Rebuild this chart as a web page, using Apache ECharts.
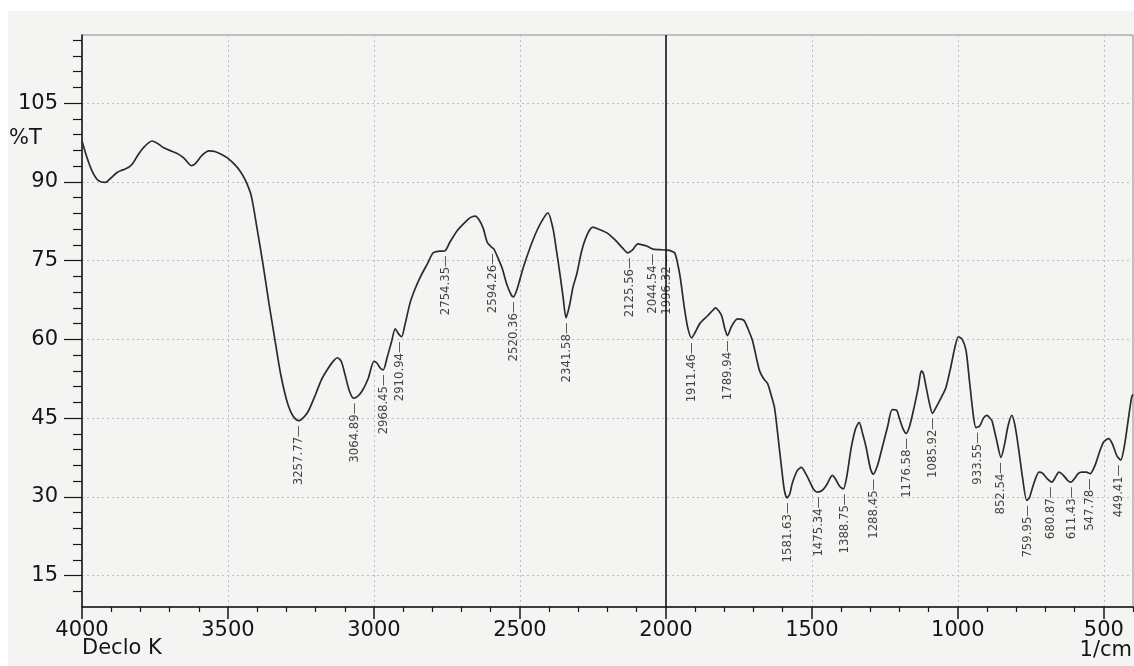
<!DOCTYPE html>
<html><head><meta charset="utf-8">
<script src="https://cdn.jsdelivr.net/npm/echarts@6/dist/echarts.min.js"></script>
<style>html,body{margin:0;padding:0;background:#fff;}#c{width:1134px;height:666px;}</style>
</head><body><div id="c"></div>
<script>
// ---- data ----
const wavenumbers = [4000,3985,3965,3945,3920,3900,3880,3860,3840,3825,3810,3790,3760,3740,3720,3690,3670,3650,3625,3610,3590,3565,3545,3520,3500,3480,3460,3440,3420,3400,3380,3360,3340,3320,3300,3285,3270,3258,3240,3225,3200,3180,3160,3140,3125,3112,3100,3085,3070,3055,3040,3020,3000,2990,2978,2968,2955,2940,2927,2915,2905,2895,2876,2860,2840,2817,2797,2775,2756,2740,2715,2690,2670,2653,2640,2626,2612,2598,2590,2575,2561,2545,2530,2522,2510,2489,2465,2442,2420,2404,2387,2375,2363,2352,2342,2330,2318,2305,2290,2278,2262,2250,2230,2202,2175,2148,2131,2115,2096,2080,2066,2045,2020,1997,1985,1970,1960,1950,1938,1925,1912,1900,1884,1857,1840,1830,1820,1809,1798,1789,1775,1755,1740,1731,1715,1703,1690,1679,1665,1652,1640,1628,1616,1604,1594,1585,1576,1567,1550,1536,1522,1509,1495,1481,1465,1450,1430,1420,1405,1392,1380,1365,1350,1338,1326,1314,1300,1290,1275,1259,1240,1225,1210,1201,1188,1177,1165,1150,1135,1125,1118,1109,1098,1087,1075,1057,1041,1025,1010,998,985,972,960,948,938,925,912,900,890,883,868,852,840,828,815,804,791,778,764,755,740,722,710,695,678,665,654,640,625,613,600,588,576,560,547,530,515,500,483,470,455,442,430,418,405,400];
const transmittance = [97.8,95,92,90.3,89.9,90.8,91.8,92.3,92.8,93.6,95.0,96.5,97.8,97.3,96.5,95.8,95.3,94.5,93.1,93.6,95.0,95.9,95.8,95.2,94.5,93.5,92.2,90.3,87.3,81,74.3,67,60.2,53.5,48.6,46.2,44.9,44.5,45.2,46.3,49.5,52.3,54.2,55.8,56.5,55.8,53.5,50.3,48.8,49.2,50.2,52.5,55.8,55.5,54.5,54.2,56.5,59.5,62,61,60.5,62.5,67,69.5,72,74.4,76.5,76.8,76.9,78.5,80.7,82.2,83.2,83.5,82.8,81.2,78.5,77.6,77.3,75.5,73.6,70.5,68.5,68.1,69.5,73.6,77.5,80.7,83,84.1,81.2,77,72.5,68,64.1,66.5,70,72.5,76.5,78.8,80.8,81.4,81,80.3,79,77.4,76.5,77,78.2,78,77.8,77.2,77.1,77,76.9,76.5,74.5,71.5,66.5,62.2,60.3,61.3,63,64.5,65.5,66,65.5,64.5,62,60.7,62.5,63.9,63.8,63.5,61.5,59.7,56.5,54,52.5,51.6,49.5,47,41.5,35.6,31.2,29.8,30.5,32.6,35,35.6,34.5,33.1,31.5,30.9,31.2,32.2,34.1,33.5,32,31.5,34,39.4,43,44.2,42,39.4,35.5,34.3,36,39.4,43.5,46.6,46.5,45.1,43,42.1,43.5,47,51,54,53.5,51,48,45.9,47,48.9,50.8,54.5,58.5,60.5,60,57.9,52,46,43.2,43.5,45,45.5,45,44.5,41,37.5,40,43.5,45.5,43.5,38.8,33.5,29.3,29.8,32.5,34.7,34.5,33.5,32.8,33.8,34.7,34.2,33.2,32.8,33.5,34.4,34.7,34.7,34.4,36,38.5,40.5,41.1,40,37.8,37,39.5,44,48.9,49.5];

const peakLabels = ['3257.77','3064.89','2968.45','2910.94','2754.35','2594.26','2520.36','2341.58','2125.56','2044.54','1996.32','1911.46','1789.94','1581.63','1475.34','1388.75','1288.45','1176.58','1085.92','933.55','852.54','759.95','680.87','611.43','547.78','449.41'];
const peakWavenumbers = [3257.77,3064.89,2968.45,2910.94,2754.35,2594.26,2520.36,2341.58,2125.56,2044.54,1996.32,1911.46,1789.94,1581.63,1475.34,1388.75,1288.45,1176.58,1085.92,933.55,852.54,759.95,680.87,611.43,547.78,449.41];
const peakTransmittance = [44.5,48.8,54.2,60.5,76.9,77.3,68.1,64.1,76.5,77.2,77,60.3,60.7,29.8,30.9,31.5,34.3,42.1,45.9,43.2,37.5,29.3,32.8,32.8,34.4,37];

const xTickLabels = [4000,3500,3000,2500,2000,1500,1000,500];
const yTickLabels = [15,30,45,60,75,90,105];
const dividerWavenumber = [2000];

// minor tick positions
const xMinorTicks = [];
for (let v = 3900; v >= 400; v -= 100) if (v % 500 !== 0) xMinorTicks.push(v);
const yMinorTicks = [];
for (let v = 12; v <= 117; v += 3) if (v % 15 !== 0) yMinorTicks.push(v);

// ---- chart ----
const chart = echarts.init(document.getElementById('c'), null, {renderer: 'canvas'});
const ink = '#151515';
const gridColor = '#bdbdbd';
const bigFont = 'DejaVu Sans';

const curve = wavenumbers.map((w, i) => [w, transmittance[i]]);
const peaks = peakWavenumbers.map((w, i) => ({value: [w, peakTransmittance[i]], name: peakLabels[i]}));

const option = {
  backgroundColor: '#f4f4f2',
  animation: false,
  grid: {left: 82, right: 1, top: 35, bottom: 59, show: true, borderColor: '#8a8a8a', borderWidth: 1},
  xAxis: [
    {
      type: 'value', min: 400, max: 4000, inverse: true, position: 'bottom',
      axisLine: {show: true, onZero: false, lineStyle: {color: ink, width: 1.5}},
      axisTick: {show: true, customValues: xTickLabels, length: 12, lineStyle: {color: ink, width: 1.5}},
      axisLabel: {customValues: xTickLabels, formatter: v => String(v), fontSize: 21, color: ink, fontFamily: bigFont, margin: 13},
      splitLine: {show: true, lineStyle: {color: gridColor, type: [2, 3], width: 1}}
    },
    {
      type: 'value', min: 400, max: 4000, inverse: true, position: 'bottom',
      axisLine: {show: false},
      axisTick: {show: true, customValues: xMinorTicks, length: 5, lineStyle: {color: ink, width: 1.2}},
      axisLabel: {show: false},
      splitLine: {show: false}
    }
  ],
  yAxis: [
    {
      type: 'value', min: 9, max: 118, position: 'left',
      axisLine: {show: true, onZero: false, lineStyle: {color: ink, width: 1.5}},
      axisTick: {show: true, customValues: yTickLabels, length: 18, lineStyle: {color: ink, width: 1.2}},
      axisLabel: {customValues: yTickLabels, formatter: v => String(v), fontSize: 21, color: ink, fontFamily: bigFont, margin: 24},
      splitLine: {show: true, lineStyle: {color: gridColor, type: [2, 3], width: 1}}
    },
    {
      type: 'value', min: 9, max: 118, position: 'left',
      axisLine: {show: false},
      axisTick: {show: true, customValues: yMinorTicks, length: 9, lineStyle: {color: ink, width: 1.2}},
      axisLabel: {show: false},
      splitLine: {show: false}
    }
  ],
  graphic: [
    {type: 'rect', left: 0, top: 0, shape: {width: 1134, height: 11}, style: {fill: '#ffffff'}, z: -1, silent: true},
    {type: 'rect', left: 0, top: 0, shape: {width: 8, height: 666}, style: {fill: '#ffffff'}, z: -1, silent: true},
    {type: 'text', left: 9, top: 128, style: {text: '%T', fontSize: 21, fontFamily: bigFont, fill: ink}},
    {type: 'text', left: 82, top: 638, style: {text: 'Declo K', fontSize: 21, fontFamily: bigFont, fill: ink}},
    {type: 'text', right: 2, top: 640, style: {text: '1/cm', fontSize: 21, fontFamily: bigFont, fill: ink}}
  ],
  series: [
    {
      type: 'line', xAxisIndex: 0, yAxisIndex: 0, data: curve,
      showSymbol: false, smooth: 0.25, silent: true,
      lineStyle: {color: '#2b2b2b', width: 1.7},
      markLine: {
        silent: true, symbol: 'none', label: {show: false},
        lineStyle: {color: ink, type: 'solid', width: 1.6},
        data: dividerWavenumber.map(v => ({xAxis: v}))
      }
    },
    {
      type: 'scatter', xAxisIndex: 0, yAxisIndex: 0, data: peaks,
      symbolSize: 1, itemStyle: {color: 'rgba(0,0,0,0)'}, silent: true,
      label: {
        show: true, formatter: p => p.name + '—', rotate: 90, position: 'bottom', distance: 4,
        align: 'right', verticalAlign: 'middle',
        fontFamily: 'DejaVu Sans Condensed', fontSize: 13, color: ink
      },
      labelLayout: {hideOverlap: false}
    }
  ]
};
chart.setOption(option);
</script>
</body></html>
